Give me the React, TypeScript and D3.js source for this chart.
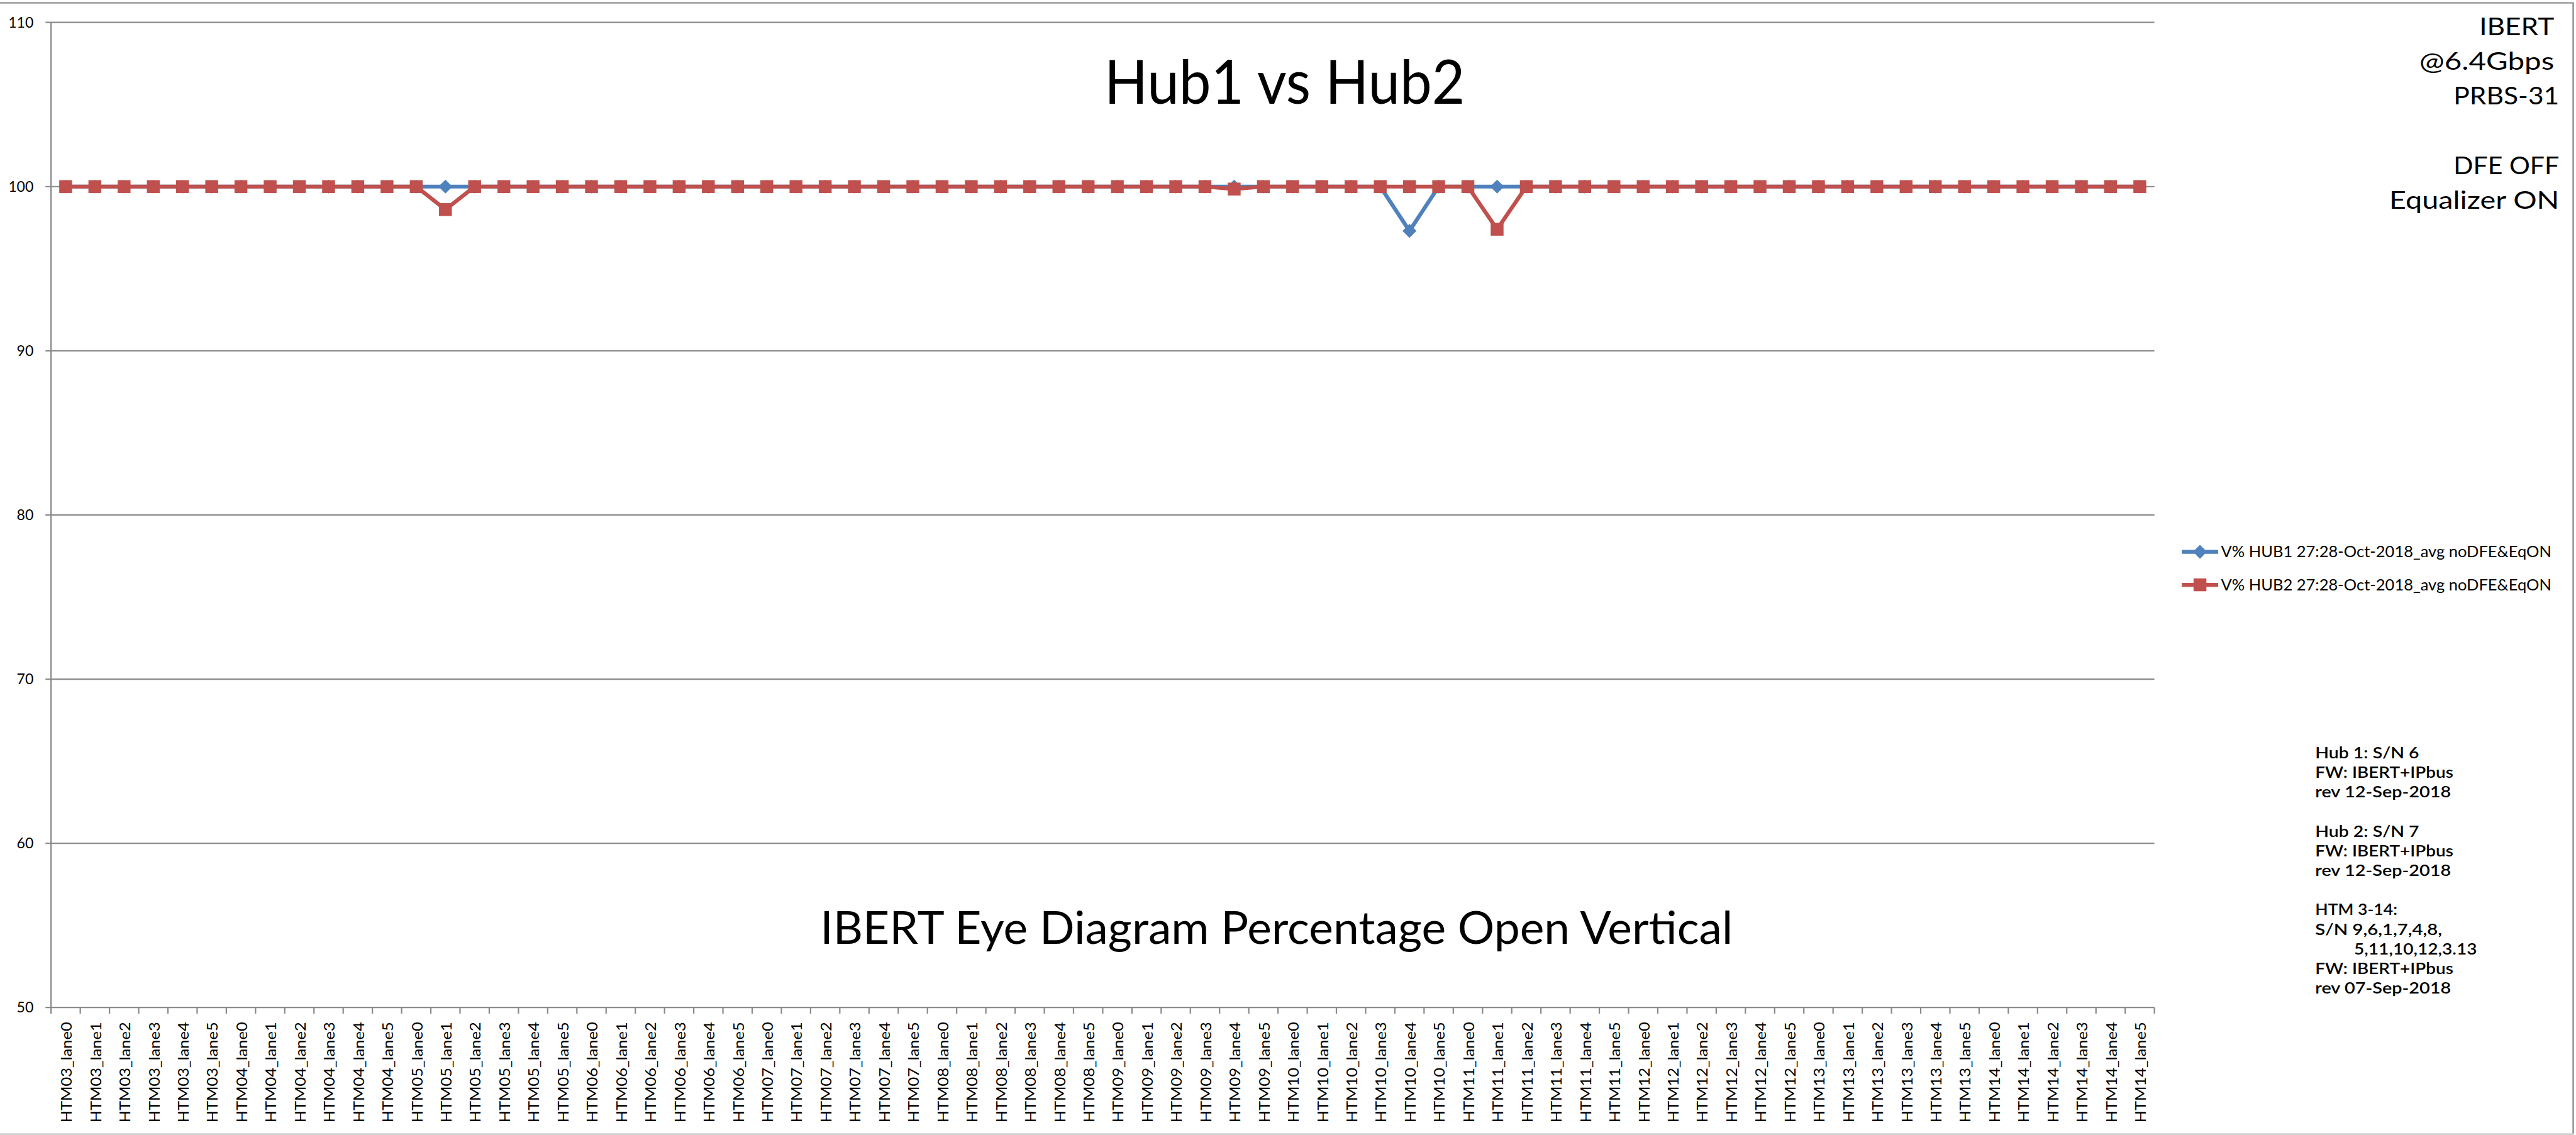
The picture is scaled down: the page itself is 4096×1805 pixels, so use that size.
import React, { useEffect } from 'react';
import * as d3 from 'd3';

// ---------------- DATA ----------------
const htmBoards = ['HTM03', 'HTM04', 'HTM05', 'HTM06', 'HTM07', 'HTM08', 'HTM09', 'HTM10', 'HTM11', 'HTM12', 'HTM13', 'HTM14'];
const laneNames = ['lane0', 'lane1', 'lane2', 'lane3', 'lane4', 'lane5'];
const categories = htmBoards.flatMap((h) => laneNames.map((l) => `${h}_${l}`));

// V% HUB1 (one row per HTM board, lanes 0..5)
const hub1Values = [
  100, 100, 100, 100, 100, 100, // HTM03
  100, 100, 100, 100, 100, 100, // HTM04
  100, 100, 100, 100, 100, 100, // HTM05
  100, 100, 100, 100, 100, 100, // HTM06
  100, 100, 100, 100, 100, 100, // HTM07
  100, 100, 100, 100, 100, 100, // HTM08
  100, 100, 100, 100, 100, 100, // HTM09
  100, 100, 100, 100, 97.3, 100, // HTM10
  100, 100, 100, 100, 100, 100, // HTM11
  100, 100, 100, 100, 100, 100, // HTM12
  100, 100, 100, 100, 100, 100, // HTM13
  100, 100, 100, 100, 100, 100, // HTM14
];

// V% HUB2
const hub2Values = [
  100, 100, 100, 100, 100, 100, // HTM03
  100, 100, 100, 100, 100, 100, // HTM04
  100, 98.6, 100, 100, 100, 100, // HTM05
  100, 100, 100, 100, 100, 100, // HTM06
  100, 100, 100, 100, 100, 100, // HTM07
  100, 100, 100, 100, 100, 100, // HTM08
  100, 100, 100, 100, 99.85, 100, // HTM09
  100, 100, 100, 100, 100, 100, // HTM10
  100, 97.4, 100, 100, 100, 100, // HTM11
  100, 100, 100, 100, 100, 100, // HTM12
  100, 100, 100, 100, 100, 100, // HTM13
  100, 100, 100, 100, 100, 100, // HTM14
];

const seriesNames = [
  'V% HUB1 27:28-Oct-2018_avg noDFE&EqON',
  'V% HUB2 27:28-Oct-2018_avg noDFE&EqON',
];

const yTicks = [50, 60, 70, 80, 90, 100, 110];

const chartTitle = 'Hub1 vs Hub2';
const axisTitle = 'IBERT Eye Diagram Percentage Open Vertical';
const infoLines = ['IBERT', '@6.4Gbps', 'PRBS-31', '', 'DFE OFF', 'Equalizer ON'];
const noteLines = [
  'Hub 1:  S/N 6',
  'FW: IBERT+IPbus',
  'rev  12-Sep-2018',
  '',
  'Hub 2:  S/N 7',
  'FW: IBERT+IPbus',
  'rev  12-Sep-2018',
  '',
  'HTM 3-14:',
  'S/N  9,6,1,7,4,8,',
  '5,11,10,12,3.13',
  'FW: IBERT+IPbus',
  'rev  07-Sep-2018',
];

// ---------------- LAYOUT (reference pixel space) ----------------
const W = 4607;
const H = 2030;
const PL = 91.3;
const PR = 3853;
const PT = 40;
const PB = 1802;
const FONT = "Lato, 'Open Sans', 'Liberation Sans', sans-serif";
const BLUE = '#4F81BD';
const RED = '#C0504D';
const GRID = '#8a8a8a';

const infoWidths = [134, 241, 189, 0, 189, 304];
const noteWidths = [186, 247, 243, 0, 186, 247, 243, 0, 147, 227, 220, 247, 243];

function diamond(cx: number, cy: number, r: number) {
  return `M${cx},${cy - r}L${cx + r},${cy}L${cx},${cy + r}L${cx - r},${cy}Z`;
}

export default function App() {
  useEffect(() => {
    document.body.style.margin = '0';
    document.body.style.overflow = 'hidden';
  }, []);

  const x = d3.scaleBand<string>().domain(categories).range([PL, PR]).padding(0);
  const bw = x.bandwidth();
  const cx = (i: number) => (x(categories[i]) as number) + bw / 2;
  const y = d3.scaleLinear().domain([50, 110]).range([PB, PT]);

  const line = d3
    .line<number>()
    .x((_, i) => cx(i))
    .y((d) => y(d));

  const boundaries = categories.map((c) => x(c) as number).concat([PR]);

  return (
    <svg
      width={4096}
      height={1805}
      viewBox={`0 0 ${W} ${H}`}
      style={{ display: 'block', position: 'absolute', left: 0, top: 0, background: '#fff' }}
      fontFamily={FONT}
    >
      <rect x={0} y={0} width={W} height={H} fill="#fff" />
      {/* chart frame */}
      <line x1={0} x2={4603} y1={5} y2={5} stroke="#9a9a9a" strokeWidth={3} />
      <line x1={4602} x2={4602} y1={5} y2={2029} stroke="#9a9a9a" strokeWidth={3} />
      <line x1={0} x2={4603} y1={2028.5} y2={2028.5} stroke="#d0d0d0" strokeWidth={3} />

      {/* gridlines and y ticks */}
      {yTicks.map((t) => (
        <g key={t}>
          <line x1={PL - 10} x2={PR} y1={y(t)} y2={y(t)} stroke={GRID} strokeWidth={2.5} />
          <text x={60} y={y(t) + 9} textAnchor="end" fontSize={26} fill="#000">
            {t}
          </text>
        </g>
      ))}
      {/* y axis line */}
      <line x1={PL} x2={PL} y1={PT} y2={PB} stroke={GRID} strokeWidth={2.5} />
      {/* x ticks */}
      {boundaries.map((b, i) => (
        <line key={i} x1={b} x2={b} y1={PB} y2={PB + 11} stroke={GRID} strokeWidth={2.5} />
      ))}
      {/* x labels */}
      {categories.map((c, i) => (
        <text
          key={c}
          transform={`translate(${cx(i) + 11},1828) rotate(-90)`}
          textAnchor="end"
          fontSize={27}
          textLength={180}
          lengthAdjust="spacingAndGlyphs"
          fill="#000"
        >
          {c}
        </text>
      ))}

      {/* series 1 */}
      <path d={line(hub1Values) || ''} fill="none" stroke={BLUE} strokeWidth={7} strokeLinejoin="round" />
      {hub1Values.map((v, i) => (
        <path key={i} d={diamond(cx(i), y(v), 12.5)} fill={BLUE} />
      ))}
      {/* series 2 */}
      <path d={line(hub2Values) || ''} fill="none" stroke={RED} strokeWidth={7} strokeLinejoin="round" />
      {hub2Values.map((v, i) => (
        <rect key={i} x={cx(i) - 11.5} y={y(v) - 11.5} width={23} height={23} fill={RED} />
      ))}

      {/* titles */}
      <text x={1975} y={186} fontSize={110} textLength={645} lengthAdjust="spacingAndGlyphs" fill="#000">
        {chartTitle}
      </text>
      <text x={1467} y={1688} fontSize={80} textLength={1632} lengthAdjust="spacingAndGlyphs" fill="#000">
        {axisTitle}
      </text>

      {/* info block top-right */}
      {infoLines.map((t, i) =>
        t ? (
          <text
            key={i}
            x={i < 2 ? 4568 : 4577}
            y={63 + i * 62}
            textAnchor="end"
            fontSize={43}
            textLength={infoWidths[i]}
            lengthAdjust="spacingAndGlyphs"
            fill="#000"
          >
            {t}
          </text>
        ) : null
      )}

      {/* legend */}
      {seriesNames.map((s, i) => {
        const ly = 987 + i * 59;
        return (
          <g key={s}>
            <line x1={3902} x2={3967} y1={ly} y2={ly} stroke={i === 0 ? BLUE : RED} strokeWidth={7} />
            {i === 0 ? (
              <path d={diamond(3934.5, ly, 12.5)} fill={BLUE} />
            ) : (
              <rect x={3934.5 - 11.5} y={ly - 11.5} width={23} height={23} fill={RED} />
            )}
            <text x={3972} y={ly + 10} fontSize={29} textLength={591} lengthAdjust="spacingAndGlyphs" fill="#000">
              {s}
            </text>
          </g>
        );
      })}

      {/* notes bottom-right */}
      {noteLines.map((t, i) =>
        t ? (
          <text
            key={i}
            x={i === 10 ? 4210 : 4140.5}
            y={1356 + i * 35.1}
            fontSize={28}
            fontWeight={600}
            textLength={noteWidths[i]}
            lengthAdjust="spacingAndGlyphs"
            fill="#000"
          >
            {t}
          </text>
        ) : null
      )}
    </svg>
  );
}
